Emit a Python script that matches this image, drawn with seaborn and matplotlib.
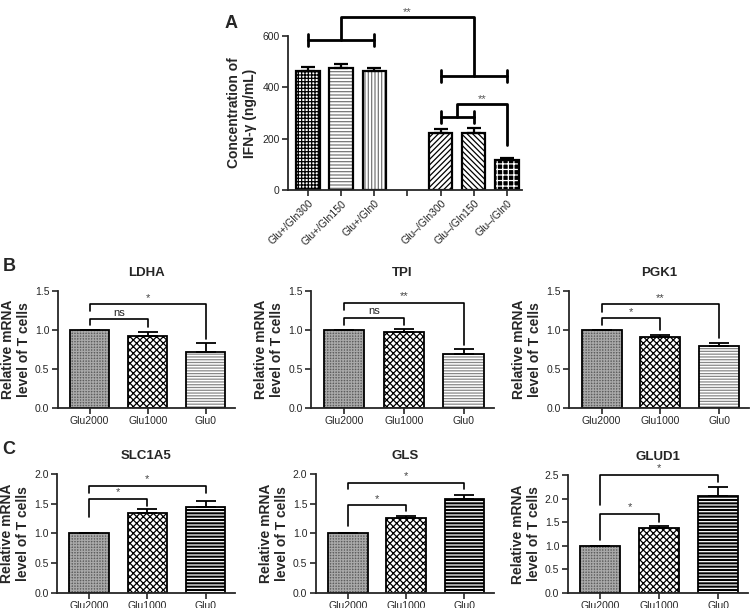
import numpy as np
import pandas as pd
import matplotlib
matplotlib.use('Agg')
import matplotlib.pyplot as plt
import seaborn as sns
from matplotlib.patches import Rectangle

sns.set_style('ticks')
plt.rcParams['font.family'] = ['Liberation Sans', 'DejaVu Sans']
plt.rcParams['hatch.linewidth'] = 0.9

# ---- panel A data: IFN-gamma concentration (ng/mL)
a_groups = ['Glu+/Gln300', 'Glu+/Gln150', 'Glu+/Gln0', 'Glu–/Gln300', 'Glu–/Gln150', 'Glu–/Gln0']
a_order = a_groups[:3] + [' '] + a_groups[3:]
a_mean = [463, 477, 463, 222, 222, 117]
a_err = [15, 14, 14, 14, 18, 9]

# ---- panels B and C: relative mRNA level of T cells
mrna_groups = ['Glu2000', 'Glu1000', 'Glu0']
ldha_mean = [1.0, 0.93, 0.72]
ldha_err = [0.0, 0.04, 0.11]
tpi_mean = [1.0, 0.97, 0.69]
tpi_err = [0.0, 0.05, 0.07]
pgk1_mean = [1.0, 0.91, 0.79]
pgk1_err = [0.0, 0.03, 0.05]
slc1a5_mean = [1.0, 1.35, 1.45]
slc1a5_err = [0.0, 0.06, 0.09]
gls_mean = [1.0, 1.26, 1.58]
gls_err = [0.0, 0.04, 0.07]
glud1_mean = [1.0, 1.37, 2.06]
glud1_err = [0.0, 0.05, 0.19]

# (facecolor, hatch colour, hatch)
a_styles = [('white', 'black', '+++++'), ('white', '#777777', '-----'),
            ('white', '#777777', '|||||'), ('white', 'black', '//////'),
            ('white', 'black', '\\\\\\\\\\\\'), ('black', 'white', '+++')]
b_styles = [('#5e5e5e', '#a8a8a8', '++++++'), ('white', 'black', 'xxxxx'),
            ('white', '#888888', '------')]
c_styles = [('#5e5e5e', '#a8a8a8', '++++++'), ('white', 'black', 'xxxxx'),
            ('black', 'white', '-----')]


def draw_bars(ax, groups, order, means, errs, styles, width, lw, cap):
    df = pd.DataFrame({'grp': groups, 'val': means})
    sns.barplot(data=df, x='grp', y='val', order=order, ax=ax, width=width,
                color='white', errorbar=None, linewidth=0)
    pos = [order.index(g) for g in groups]
    for p in list(ax.patches):
        i = pos.index(int(round(p.get_x() + p.get_width() / 2)))
        face, hcol, hatch = styles[i]
        p.set_facecolor(face)
        p.set_edgecolor(hcol)
        p.set_hatch(hatch)
        p.set_linewidth(0)
        ax.add_patch(Rectangle(p.get_xy(), p.get_width(), p.get_height(), fill=False,
                               ec='black', lw=lw, zorder=p.get_zorder() + 0.1))
    ax.errorbar(pos, means, yerr=[np.zeros(len(errs)), errs], fmt='none', ecolor='black',
                elinewidth=lw, capsize=cap, capthick=lw, zorder=1)
    ax.set_xlabel('')
    sns.despine(ax=ax)
    for s in ['left', 'bottom']:
        ax.spines[s].set_linewidth(1.3)
    ax.tick_params(width=1.2, length=4, labelsize=7.5, pad=2)


def bracket(ax, x1, x2, y, leg1, leg2, text, lw=1.2, size=8, color='#444444', gap=0.02):
    ax.plot([x1, x1, x2, x2], [leg1, y, y, leg2], color='black', lw=lw, clip_on=False)
    ax.text((x1 + x2) / 2, y + gap, text, ha='center', va='bottom', fontsize=size, color=color)


fig = plt.figure(figsize=(7.5, 6.08), dpi=100)

# ---------------- panel A
axA = fig.add_axes([0.384, 0.6875, 0.312, 0.253])
draw_bars(axA, a_groups, a_order, a_mean, a_err, a_styles, 0.7, 1.6, 5)
axA.set_xlim(-0.6, 6.45)
axA.set_ylim(0, 600)
axA.set_yticks([0, 200, 400, 600])
axA.set_ylabel('Concentration of\nIFN-γ (ng/mL)', fontsize=10, fontweight='bold', labelpad=4)
axA.tick_params(axis='x', rotation=45)
for t in axA.get_xticklabels():
    t.set_ha('right')
    t.set_rotation_mode('anchor')
lwA = 2.0
axA.plot([0, 2], [587, 587], color='black', lw=lwA, clip_on=False)
axA.plot([0, 0], [562, 610], color='black', lw=lwA, clip_on=False)
axA.plot([2, 2], [562, 610], color='black', lw=lwA, clip_on=False)
axA.plot([4, 6], [444, 444], color='black', lw=lwA, clip_on=False)
axA.plot([4, 4], [422, 468], color='black', lw=lwA, clip_on=False)
axA.plot([6, 6], [422, 468], color='black', lw=lwA, clip_on=False)
axA.plot([1, 1, 5, 5], [587, 673, 673, 444], color='black', lw=lwA, clip_on=False)
axA.text(3, 676, '**', ha='center', va='bottom', fontsize=8, color='#555555')
axA.plot([4, 5], [286, 286], color='black', lw=lwA, clip_on=False)
axA.plot([4, 4], [262, 308], color='black', lw=lwA, clip_on=False)
axA.plot([5, 5], [262, 308], color='black', lw=lwA, clip_on=False)
axA.plot([4.5, 4.5, 6, 6], [286, 334, 334, 175], color='black', lw=lwA, clip_on=False)
axA.text(5.25, 337, '**', ha='center', va='bottom', fontsize=8, color='#555555')
fig.text(0.30, 0.975, 'A', fontsize=13, fontweight='bold', va='top')

# ---------------- panels B and C
ylab = 'Relative mRNA\nlevel of T cells'
rows = [
    ('LDHA', ldha_mean, ldha_err, b_styles, [0.077, 0.329, 0.236, 0.192], 1.5),
    ('TPI', tpi_mean, tpi_err, b_styles, [0.415, 0.329, 0.243, 0.192], 1.5),
    ('PGK1', pgk1_mean, pgk1_err, b_styles, [0.759, 0.329, 0.239, 0.192], 1.5),
    ('SLC1A5', slc1a5_mean, slc1a5_err, c_styles, [0.076, 0.0247, 0.237, 0.196], 2.0),
    ('GLS', gls_mean, gls_err, c_styles, [0.421, 0.0247, 0.237, 0.196], 2.0),
    ('GLUD1', glud1_mean, glud1_err, c_styles, [0.757, 0.0247, 0.240, 0.194], 2.5),
]
axes = {}
for name, mean, err, styles, rect, ymax in rows:
    ax = fig.add_axes(rect)
    draw_bars(ax, mrna_groups, mrna_groups, mean, err, styles, 0.68, 1.3, 7)
    ax.set_xlim(-0.55, 2.5)
    ax.set_ylim(0, ymax)
    ax.set_yticks(np.arange(0, ymax + 0.01, 0.5))
    ax.yaxis.set_major_formatter(matplotlib.ticker.FormatStrFormatter('%.1f'))
    ax.set_ylabel(ylab, fontsize=10, fontweight='bold', labelpad=3)
    ax.set_title(name, fontsize=9.5, fontweight='bold', pad=11)
    axes[name] = ax

bracket(axes['LDHA'], 0, 1, 1.14, 1.06, 1.04, 'ns', size=8, color='#222222')
bracket(axes['LDHA'], 0, 2, 1.33, 1.24, 0.88, '*')
bracket(axes['TPI'], 0, 1, 1.16, 1.07, 1.07, 'ns', size=8, color='#222222')
bracket(axes['TPI'], 0, 2, 1.35, 1.26, 0.81, '**')
bracket(axes['PGK1'], 0, 1, 1.15, 1.06, 1.0, '*')
bracket(axes['PGK1'], 0, 2, 1.33, 1.23, 0.90, '**')
bracket(axes['SLC1A5'], 0, 1, 1.58, 1.28, 1.46, '*', gap=0.03)
bracket(axes['SLC1A5'], 0, 2, 1.79, 1.68, 1.68, '*', gap=0.03)
bracket(axes['GLS'], 0, 1, 1.47, 1.13, 1.37, '*', gap=0.03)
bracket(axes['GLS'], 0, 2, 1.85, 1.75, 1.74, '*', gap=0.03)
bracket(axes['GLUD1'], 0, 1, 1.68, 1.13, 1.51, '*', gap=0.04)
bracket(axes['GLUD1'], 0, 2, 2.50, 1.87, 2.36, '*', gap=0.04)

fig.text(0.003, 0.575, 'B', fontsize=13, fontweight='bold', va='top')
fig.text(0.003, 0.275, 'C', fontsize=13, fontweight='bold', va='top')

fig.savefig('out.png', dpi=100)
